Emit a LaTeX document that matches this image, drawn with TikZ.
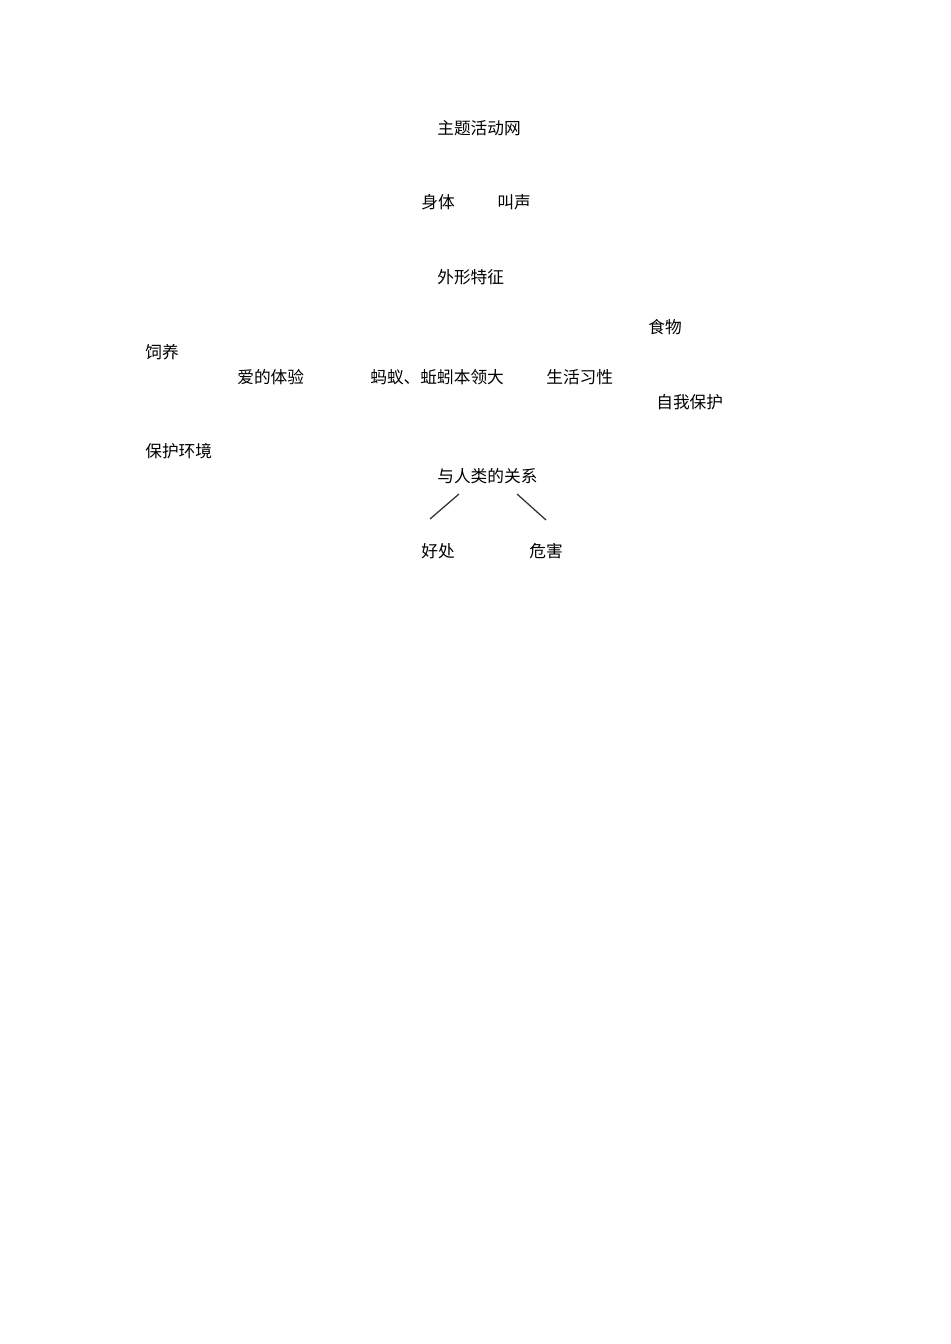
\documentclass[tikz,border=0pt]{standalone}
\usepackage{fontspec}
\setmainfont{Noto Sans CJK SC}
\tikzset{
	wort/.style={anchor=west, inner sep=0pt, font=\fontsize{10.5pt}{12pt}\selectfont},
	strich/.style={thick, black!80}
}

\begin{document}
\begin{tikzpicture}[x=0.0221cm, y=-0.0221cm]
		
		%Seite
		\useasboundingbox (0,0) rectangle (950,1344);
		
		%Ueberschrift
		\node [wort] (netz) at (437,128) {主题活动网};
		
		%oberer Teil
		\node [wort] (koerper) at (421,202) {身体};
		\node [wort] (laut) at (497,202) {叫声};
		\node [wort] (aussehen) at (437,277) {外形特征};
		
		%mittlerer Teil
		\node [wort] (futter) at (648,327) {食物};
		\node [wort] (zucht) at (145,352) {饲养};
		\node [wort] (liebe) at (237,377) {爱的体验};
		\node [wort] (mitte) at (370,377) {蚂蚁、蚯蚓本领大};
		\node [wort] (leben) at (546,377) {生活习性};
		\node [wort] (schutz) at (656,402) {自我保护};
		\node [wort] (umwelt) at (145,451) {保护环境};
		
		%unterer Teil
		\node [wort] (mensch) at (437,476) {与人类的关系};
		\node [wort] (nutzen) at (421,551) {好处};
		\node [wort] (schaden) at (529,551) {危害};
		
		\coordinate (A) at (459,494);
		\coordinate (B) at (430,519);
		\coordinate (C) at (517,494);
		\coordinate (D) at (546,520);
		\draw [strich] (A) -- (B);
		\draw [strich] (C) -- (D);
		
	\end{tikzpicture}
\end{document}
